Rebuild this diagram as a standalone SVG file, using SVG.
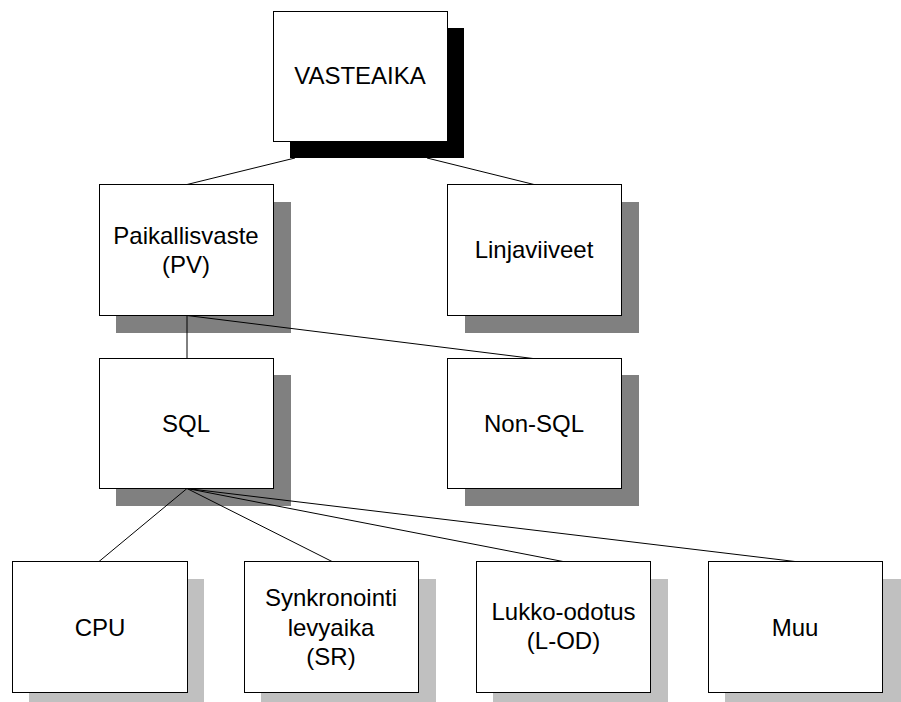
<svg xmlns="http://www.w3.org/2000/svg" width="901" height="702" viewBox="0 0 901 702">
<style>
.box{fill:#fff;stroke:#000;stroke-width:1}
.sh1{fill:#000}
.sh2{fill:#808080}
.sh3{fill:#c0c0c0}
.lbl{font-family:"Liberation Sans",Arial,sans-serif;font-size:24px;fill:#000;text-anchor:middle}
.conn{stroke:#000;stroke-width:1;fill:none}
</style>
<rect width="901" height="702" fill="#fff"/>
<g id="node-vasteaika">
<rect class="sh1" x="290" y="28" width="174" height="130"/>
<rect class="box" x="273.5" y="11.5" width="174" height="130"/>
<text class="lbl" x="360" y="84">VASTEAIKA</text>
</g>
<g id="node-paikallisvaste">
<rect class="sh2" x="116" y="202" width="175" height="131"/>
<rect class="box" x="99.5" y="184.5" width="174" height="131"/>
<text class="lbl" x="186" y="244">Paikallisvaste</text>
<text class="lbl" x="186" y="273">(PV)</text>
</g>
<g id="node-linjaviiveet">
<rect class="sh2" x="465" y="202" width="174" height="131"/>
<rect class="box" x="447.5" y="184.5" width="174" height="131"/>
<text class="lbl" x="534" y="258">Linjaviiveet</text>
</g>
<g id="node-sql">
<rect class="sh2" x="116" y="375" width="175" height="131"/>
<rect class="box" x="99.5" y="358.5" width="174" height="130"/>
<text class="lbl" x="186" y="432">SQL</text>
</g>
<g id="node-nonsql">
<rect class="sh2" x="465" y="375" width="174" height="131"/>
<rect class="box" x="447.5" y="358.5" width="174" height="130"/>
<text class="lbl" x="534" y="432">Non-SQL</text>
</g>
<g id="node-cpu">
<rect class="sh3" x="29" y="579" width="175" height="131"/>
<rect class="box" x="12.5" y="561.5" width="175" height="131"/>
<text class="lbl" x="100" y="636">CPU</text>
</g>
<g id="node-synkronointi">
<rect class="sh3" x="261" y="579" width="175" height="131"/>
<rect class="box" x="244.5" y="561.5" width="174" height="131"/>
<text class="lbl" x="331" y="606">Synkronointi</text>
<text class="lbl" x="331" y="636">levyaika</text>
<text class="lbl" x="331" y="665">(SR)</text>
</g>
<g id="node-lukko">
<rect class="sh3" x="493" y="579" width="175" height="131"/>
<rect class="box" x="476.5" y="561.5" width="174" height="131"/>
<text class="lbl" x="563.5" y="620">Lukko-odotus</text>
<text class="lbl" x="563.5" y="649">(L-OD)</text>
</g>
<g id="node-muu">
<rect class="sh3" x="725" y="579" width="176" height="131"/>
<rect class="box" x="708.5" y="561.5" width="174" height="131"/>
<text class="lbl" x="795" y="636">Muu</text>
</g>
<g id="connectors">
<line class="conn" x1="295" y1="158" x2="187" y2="184.5"/>
<line class="conn" x1="427" y1="158" x2="534" y2="184.5"/>
<line class="conn" x1="187" y1="315.5" x2="187" y2="358.5"/>
<line class="conn" x1="187" y1="315.5" x2="533" y2="358.5"/>
<line class="conn" x1="187" y1="488.5" x2="99" y2="561.5"/>
<line class="conn" x1="187" y1="488.5" x2="332" y2="561.5"/>
<line class="conn" x1="187" y1="488.5" x2="563" y2="561.5"/>
<line class="conn" x1="187" y1="488.5" x2="795" y2="561.5"/>
</g>
</svg>
